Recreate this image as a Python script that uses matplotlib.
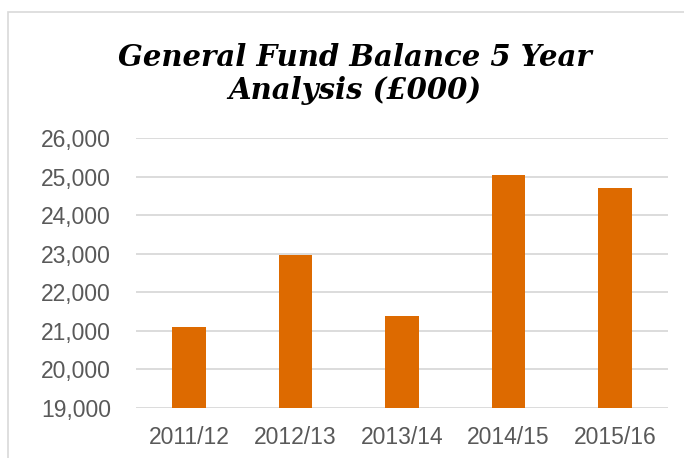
import matplotlib
matplotlib.use("Agg")
import matplotlib.pyplot as plt
from matplotlib.patches import Rectangle
from matplotlib.ticker import FuncFormatter

# data (£000)
years = ['2011/12', '2012/13', '2013/14', '2014/15', '2015/16']
balance = [21110, 22975, 21380, 25035, 24700]
y_ticks = [19000, 20000, 21000, 22000, 23000, 24000, 25000, 26000]

W, H = 684, 458
fig = plt.figure(figsize=(W / 100, H / 100), dpi=100)

# light grey chart frame (runs off right/bottom edge)
fig.patches.append(Rectangle((8 / W, -0.1), 1.2, 1 - 12 / H + 0.1,
                             transform=fig.transFigure, fill=False,
                             edgecolor='#d9d9d9', linewidth=1.2))

ax = fig.add_axes([136 / W, 1 - 408 / H, (668 - 136) / W, (408 - 138) / H])
ax.bar(range(len(years)), balance, width=0.315, color='#dd6a00', zorder=3)
ax.set_ylim(19000, 26000)
ax.set_xlim(-0.5, len(years) - 0.5)
ax.set_yticks(y_ticks)
ax.yaxis.set_major_formatter(FuncFormatter(lambda v, p: f'{int(v):,}'))
ax.set_xticks(range(len(years)))
ax.set_xticklabels(years)
ax.grid(axis='y', color='#d9d9d9', linewidth=1.3, zorder=0)
for s in ax.spines.values():
    s.set_visible(False)
ax.tick_params(length=0, labelsize=16.5, labelcolor='#595959')
ax.tick_params(axis='y', pad=18)
ax.tick_params(axis='x', pad=13)
for lab in ax.get_xticklabels() + ax.get_yticklabels():
    lab.set_family('Liberation Sans')

fig.text(355 / W, 1 - 74 / H, 'General Fund Balance 5 Year\nAnalysis (£000)',
         ha='center', va='center', fontsize=21, fontweight='bold',
         fontstyle='italic', family='DejaVu Serif', linespacing=1.15)

fig.savefig('out.png', dpi=100)
